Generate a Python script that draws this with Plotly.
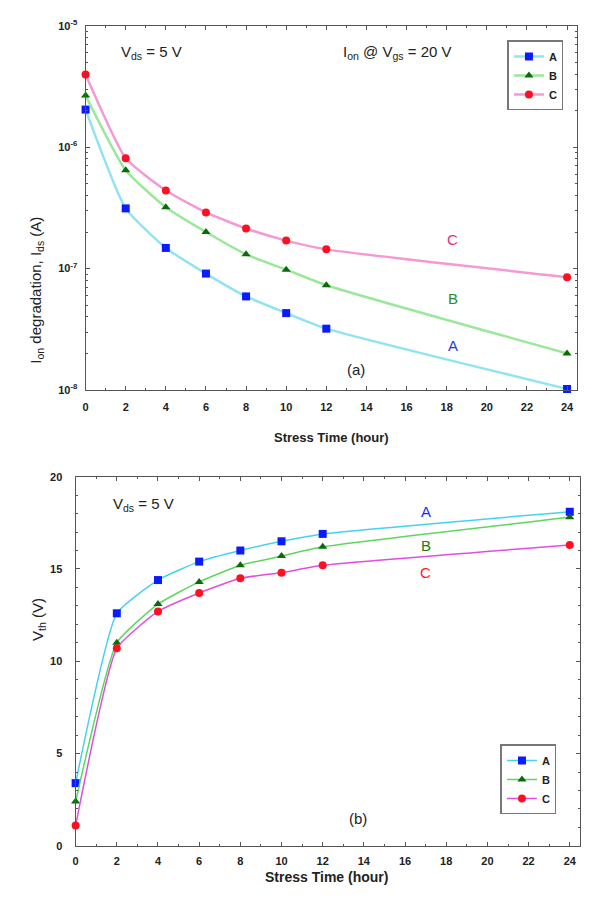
import plotly.graph_objects as go

hours = [0, 2, 4, 6, 8, 10, 12, 24]

# (a) Ion degradation (A)
ion_A = [2.04e-6, 3.13e-7, 1.48e-7, 9.1e-8, 5.9e-8, 4.3e-8, 3.2e-8, 1.02e-8]
ion_B = [2.66e-6, 6.45e-7, 3.2e-7, 2.0e-7, 1.31e-7, 9.8e-8, 7.3e-8, 2.0e-8]
ion_C = [3.96e-6, 8.1e-7, 4.4e-7, 2.9e-7, 2.14e-7, 1.7e-7, 1.44e-7, 8.5e-8]

# (b) Vth (V)
vth_A = [3.4, 12.6, 14.4, 15.4, 16.0, 16.5, 16.9, 18.1]
vth_B = [2.4, 11.0, 13.1, 14.3, 15.2, 15.7, 16.2, 17.8]
vth_C = [1.1, 10.7, 12.7, 13.7, 14.5, 14.8, 15.2, 16.3]

x_ticks = list(range(0, 25, 2))
y_ticks_a = [1e-8, 1e-7, 1e-6, 1e-5]
y_ticklabels_a = ["10<sup>-8</sup>", "10<sup>-7</sup>", "10<sup>-6</sup>", "10<sup>-5</sup>"]
y_ticks_b = [0, 5, 10, 15, 20]

names = ["A", "B", "C"]
symbols = ["square", "triangle-up", "circle"]
mcol = ["#0a1bff", "#0b6b0b", "#ff1020"]
lcol_a = ["#8fe4f4", "#9be89b", "#f39ad6"]
lcol_b = ["#45d2f0", "#5ed65e", "#e04ee0"]

FONT = "Liberation Sans, Arial, sans-serif"
fig = go.Figure()

for i, ys in enumerate([ion_A, ion_B, ion_C]):
    fig.add_trace(go.Scatter(
        x=hours, y=ys, name=names[i], mode="lines+markers",
        line=dict(color=lcol_a[i], width=2.5, shape="spline", smoothing=0.5),
        marker=dict(symbol=symbols[i], color=mcol[i], size=8),
        cliponaxis=False, xaxis="x", yaxis="y", legend="legend"))

for i, ys in enumerate([vth_A, vth_B, vth_C]):
    fig.add_trace(go.Scatter(
        x=hours, y=ys, name=names[i], mode="lines+markers",
        line=dict(color=lcol_b[i], width=1.5, shape="spline", smoothing=0.45),
        marker=dict(symbol=symbols[i], color=mcol[i], size=8),
        cliponaxis=False, xaxis="x2", yaxis="y2", legend="legend2"))

axis_common = dict(showline=True, linecolor="#555", linewidth=1.2, mirror="ticks",
                   ticks="inside", tickcolor="#555", ticklen=4, showgrid=False,
                   zeroline=False,
                   tickfont=dict(family=FONT, size=11, color="#222", weight="bold"))

fig.update_layout(
    width=593, height=910, margin=dict(l=0, r=0, t=0, b=0),
    paper_bgcolor="white", plot_bgcolor="white",
    font=dict(family=FONT, color="#222"),
    xaxis=dict(domain=[83/593, 577/593], range=[0, 24.5], tickvals=x_ticks,
               minor=dict(ticks="inside", dtick=1, ticklen=2, tickcolor="#555"),
               ticklabelstandoff=7, anchor="y", **axis_common),
    yaxis=dict(domain=[1-388/910, 1-18/910], type="log", range=[-8, -5],
               tickvals=y_ticks_a, ticktext=y_ticklabels_a,
               minor=dict(ticks="inside", dtick="D1", ticklen=2, tickcolor="#555"),
               ticklabelstandoff=5, anchor="x", **axis_common),
    xaxis2=dict(domain=[73/593, 580/593], range=[0, 24.5], tickvals=x_ticks,
                minor=dict(ticks="inside", dtick=1, ticklen=2, tickcolor="#555"),
                ticklabelstandoff=5, anchor="y2", **axis_common),
    yaxis2=dict(domain=[1-851/910, 1-476/910], range=[0, 20], tickvals=y_ticks_b,
                minor=dict(ticks="inside", dtick=1, ticklen=2, tickcolor="#555"),
                ticklabelstandoff=10, anchor="x2", **axis_common),
    legend=dict(x=507/593, y=1-33/910, xanchor="left", yanchor="top",
                bordercolor="#777", borderwidth=1.5, bgcolor="white",
                font=dict(family=FONT, size=11, weight="bold"),
                itemwidth=30, tracegroupgap=0),
    legend2=dict(x=500/593, y=1-748/910, xanchor="left", yanchor="top",
                 bordercolor="#777", borderwidth=1.5, bgcolor="white",
                 font=dict(family=FONT, size=11, weight="bold"),
                 itemwidth=30, tracegroupgap=0),
)

ann = []
def txt(x, y, s, size=15, color="#222", xref="x", yref="y", **kw):
    ann.append(dict(x=x, y=y, text=s, xref=xref, yref=yref, showarrow=False,
                    font=dict(family=FONT, size=size, color=color), **kw))

# panel (a)
txt(3.3, -5.22, "V<sub>ds</sub> = 5 V")
txt(15.5, -5.22, "I<sub>on</sub> @ V<sub>gs</sub> = 20 V")
txt(18.3, -6.76, "C", color="#e0308a")
txt(18.3, -7.25, "B", color="#2a8a2a")
txt(18.3, -7.63, "A", color="#2a3adf")
txt(13.5, -7.83, "(a)")
# panel (b)
txt(3.3, 18.5, "V<sub>ds</sub> = 5 V", xref="x2", yref="y2")
txt(17.0, 18.1, "A", color="#1a2aff", xref="x2", yref="y2")
txt(17.0, 16.25, "B", color="#1a7a1a", xref="x2", yref="y2")
txt(17.0, 14.8, "C", color="#ff2020", xref="x2", yref="y2")
txt(13.7, 1.5, "(b)", xref="x2", yref="y2")

# axis titles
txt(330/593, 1-436/910, "<b>Stress Time (hour)</b>", size=13, xref="paper", yref="paper")
txt(325/593, 1-893/910, "<b>Stress Time (hour)</b>", size=14, xref="paper", yref="paper")
txt(22/593, 1-210/910, "I<sub>on</sub> degradation, I<sub>ds</sub> (A)", size=15,
    xref="paper", yref="paper", textangle=-90)
txt(24/593, 1-645/910, "V<sub>th</sub> (V)", size=15, xref="paper", yref="paper",
    textangle=-90)

fig.update_layout(annotations=ann)
fig.write_html("out.html")
